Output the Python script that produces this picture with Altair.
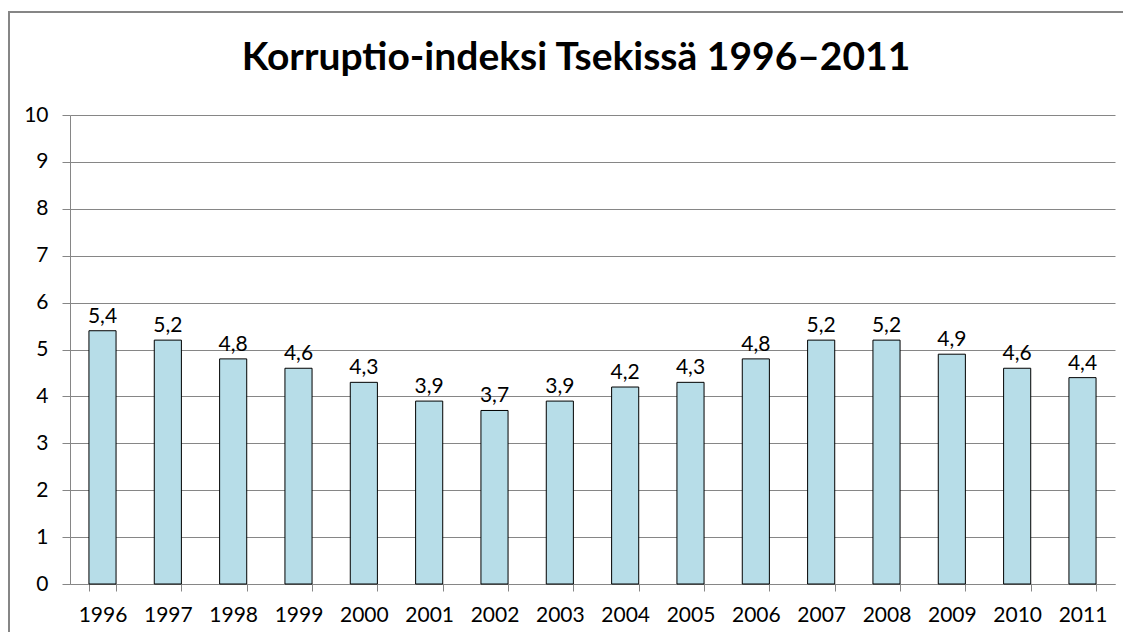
import altair as alt
import pandas as pd

years = ["1996", "1997", "1998", "1999", "2000", "2001", "2002", "2003",
         "2004", "2005", "2006", "2007", "2008", "2009", "2010", "2011"]
values = [5.4, 5.2, 4.8, 4.6, 4.3, 3.9, 3.7, 3.9, 4.2, 4.3, 4.8, 5.2, 5.2, 4.9, 4.6, 4.4]
labels = [f"{v:.1f}".replace(".", ",") for v in values]
title_text = "Korruptio-indeksi Tsekissä 1996–2011"

df = pd.DataFrame({"year": years, "value": values, "label": labels})

FONT = "Lato"
W, H = 1045, 469

x = alt.X("year:N", sort=years, title=None,
          scale=alt.Scale(paddingInner=0.585, paddingOuter=0.29),
          axis=alt.Axis(labelAngle=0, labelFontSize=21, labelColor="#000000",
                        labelFont=FONT, labelPadding=13, domainColor="#868686",
                        tickColor="#868686", tickSize=7, tickBand="extent",
                        grid=False))
y = alt.Y("value:Q", title=None,
          scale=alt.Scale(domain=[0, 10], nice=False),
          axis=alt.Axis(values=list(range(0, 11)), labelFontSize=21,
                        labelColor="#000000", labelFont=FONT, labelPadding=14,
                        domainColor="#868686", tickColor="#868686", tickSize=8,
                        gridColor="#868686", gridWidth=1))

one = pd.DataFrame({"t": [title_text]})

border_top = alt.Chart(one).mark_rule(color="#868686", strokeWidth=2).encode(
    x=alt.value(-61), x2=alt.value(W + 8), y=alt.value(-103))
border_left = alt.Chart(one).mark_rule(color="#868686", strokeWidth=2).encode(
    x=alt.value(-61), y=alt.value(-104), y2=alt.value(H + 48))

title = alt.Chart(one).mark_text(
    fontSize=39, font=FONT, fontWeight="bold", color="#000000",
    align="center", baseline="alphabetic"
).encode(x=alt.value(506), y=alt.value(-45), text="t:N")

bars = alt.Chart(df).mark_bar(
    color="#B7DDE8", stroke="#000000", strokeWidth=1
).encode(x=x, y=y)

text = alt.Chart(df).mark_text(
    baseline="alphabetic", dy=-8, fontSize=21, font=FONT, color="#000000"
).encode(x=alt.X("year:N", sort=years), y="value:Q", text="label:N")

chart = alt.layer(border_top, border_left, title, bars, text).properties(
    width=W, height=H,
    autosize=alt.AutoSizeParams(type="none"),
    padding={"left": 62, "top": 107, "right": 8, "bottom": 48},
).configure_view(stroke=None)

chart.save("out.html", embed_options={"renderer": "svg", "actions": False})
